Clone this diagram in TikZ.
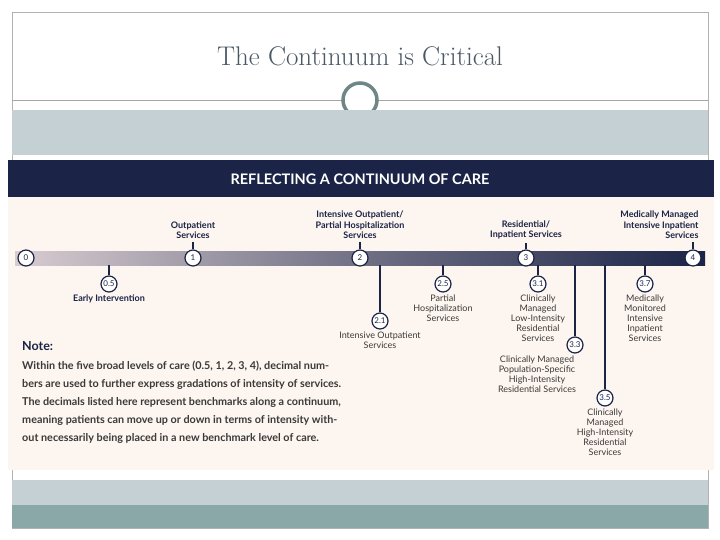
\documentclass[tikz,border=0pt]{standalone}
\usepackage{fontspec}
\newfontfamily\lato{Lato}
\usepackage{tikz}
\usetikzlibrary{positioning}
\definecolor{navyColor}{HTML}{1B2447}
\definecolor{creamColor}{HTML}{FDF5EF}
\definecolor{bandColor}{HTML}{C5D0D5}
\definecolor{tealColor}{HTML}{8AA8A8}
\definecolor{titleColor}{HTML}{4A5866}
\definecolor{textColor}{HTML}{3A3A3A}
\definecolor{barLight}{HTML}{D8CCD0}
\tikzset{
	level/.style={circle, draw=navyColor, line width=1.2pt, fill=white, inner sep=0pt, minimum size=16pt, font=\lato\fontsize{8}{9}\selectfont, text=navyColor},
	sublevel/.style={level, minimum size=16pt},
	toplabel/.style={align=center, font=\lato\bfseries\fontsize{9}{10.5}\selectfont, text=navyColor},
	sublabel/.style={align=center, font=\lato\fontsize{9}{10}\selectfont, text=textColor},
	stem/.style={draw=navyColor, line width=1.3pt}
}
\begin{document}
\begin{tikzpicture}[x=1pt,y=-1pt]
	\useasboundingbox (0,0) rectangle (720,540);
	\fill[white] (0,0) rectangle (720,540);
	% slide frame
	\draw[gray!60] (12,12) rectangle (708,528);
	\node(Title)[font=\fontsize{27}{30}\selectfont, text=titleColor] at (360,56) {The Continuum is Critical};
	\draw[gray!70] (12,100) -- (708,100);
	\node(Ring)[circle, draw=tealColor!80!black, line width=3.5pt, fill=white, minimum size=34pt] at (360,100) {};
	\fill[bandColor] (12,110) rectangle (708,155);
	\fill[bandColor] (12,480) rectangle (708,505);
	\fill[tealColor] (12,505) rectangle (708,528);
	
	% chart
	\fill[navyColor] (8,160) rectangle (714,197);
	\node(Header)[font=\lato\bfseries\fontsize{14.5}{16}\selectfont, text=white] at (360,179) {REFLECTING A CONTINUUM OF CARE};
	\fill[creamColor] (8,197) rectangle (714,470);
	\shade[left color=barLight, right color=navyColor, middle color=navyColor!55!barLight] (15,251) rectangle (705,265);
	
	% main levels
	\foreach \name/\x/\lab in {L0/26/0, L1/193/1, L2/360/2, L3/526/3, L4/693/4}
		\node(\name)[level] at (\x,258) {\lab};
	
	\node(TopOne)[toplabel] at (193,230) {Outpatient\\Services};
	\node(TopTwo)[toplabel] at (360,225) {Intensive Outpatient/\\Partial Hospitalization\\Services};
	\node(TopThree)[toplabel] at (526,230) {Residential/\\Inpatient Services};
	\node(TopFour)[toplabel, align=right, anchor=east] at (702,225) {Medically Managed\\Intensive Inpatient\\Services};
	\draw[stem] (TopOne.south) -- (L1.north);
	\draw[stem] (TopTwo.south) -- (L2.north);
	\draw[stem] (TopThree.south -| L3) -- (L3.north);
	\draw[stem] (L4.north |- TopFour.south) -- (L4.north);
	
	% sub levels
	\node(S05)[sublevel] at (109,284) {0.5};
	\node(S21)[sublevel] at (380,321) {2.1};
	\node(S25)[sublevel] at (443,284) {2.5};
	\node(S31)[sublevel] at (538,284) {3.1};
	\node(S33)[sublevel] at (575,345) {3.3};
	\node(S35)[sublevel] at (605,398) {3.5};
	\node(S37)[sublevel] at (645,284) {3.7};
	\foreach \s in {S05,S21,S25,S31,S33,S35,S37}
		\draw[stem] (\s.north |- 0,265) -- (\s.north);
	
	\node(LabEarly)[toplabel, below=-1pt of S05] {Early Intervention};
	\node(LabIOP)[sublabel, below=-1pt of S21] {Intensive Outpatient\\Services};
	\node(LabPH)[sublabel, below=-1pt of S25] {Partial\\Hospitalization\\Services};
	\node(LabLow)[sublabel, below=-1pt of S31] {Clinically\\Managed\\Low-Intensity\\Residential\\Services};
	\node(LabPop)[sublabel, below=-1pt of S33, xshift=-38pt] {Clinically Managed\\Population-Specific\\High-Intensity\\Residential Services};
	\node(LabHigh)[sublabel, below=-1pt of S35] {Clinically\\Managed\\High-Intensity\\Residential\\Services};
	\node(LabMed)[sublabel, below=-1pt of S37] {Medically\\Monitored\\Intensive\\Inpatient\\Services};
	
	% note
	\node(NoteHead)[anchor=west, inner sep=0pt, font=\lato\bfseries\fontsize{12.5}{14}\selectfont, text=navyColor] at (22,346) {Note:};
	\node(NoteBody)[anchor=north west, align=left, inner sep=0pt, font=\lato\bfseries\fontsize{10.8}{18}\selectfont, text=textColor] at (22,361) {Within the five broad levels of care (0.5, 1, 2, 3, 4), decimal num-\\
	bers are used to further express gradations of intensity of services.\\
	The decimals listed here represent benchmarks along a continuum,\\
	meaning patients can move up or down in terms of intensity with-\\
	out necessarily being placed in a new benchmark level of care.};
\end{tikzpicture}
\end{document}
